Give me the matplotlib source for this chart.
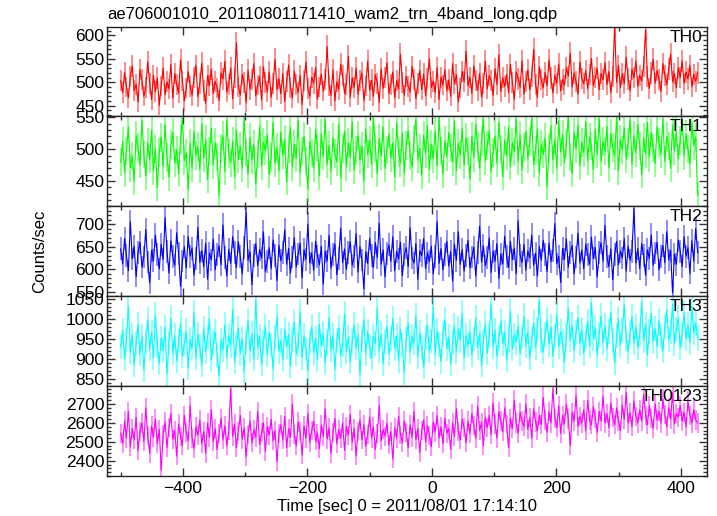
import numpy as np
import matplotlib
matplotlib.use("Agg")
import matplotlib.pyplot as plt
from matplotlib.ticker import MultipleLocator, FuncFormatter

plt.rcParams['font.family'] = ['Liberation Sans', 'DejaVu Sans']

# light curve, one value per time bin (counts/sec)
t_start = -500.0
bin_width = 3.1

th0 = [503, 478, 521, 490, 467, 512, 535, 482, 496, 458, 527, 505, 470, 489, 544, 498, 463, 515, 480, 509,
       451, 492, 530, 474, 501, 486, 538, 466, 519, 495, 477, 548, 504, 460, 488, 523, 491, 472, 510, 536,
       469, 497, 541, 483, 455, 514, 493, 528, 476, 502, 488, 461, 520, 507, 545, 479, 496, 531, 465, 511,
       584, 490, 473, 517, 499, 457, 526, 485, 506, 540, 471, 494, 512, 462, 533, 500, 480, 522, 468, 497,
       549, 484, 508, 475, 519, 459, 502, 537, 489, 466, 524, 495, 478, 515, 452, 503, 543, 487, 470, 511,
       498, 532, 464, 490, 518, 481, 506, 576, 493, 472, 527, 460, 501, 485, 539, 514, 476, 496, 555, 468,
       509, 489, 530, 474, 503, 520, 461, 492, 545, 483, 505, 470, 516, 498, 457, 528, 487, 510, 542, 476,
       495, 522, 467, 504, 486, 560, 500, 473, 513, 491, 479, 534, 506, 465, 497, 525, 484, 518, 471, 508,
       550, 489, 502, 478, 531, 463, 511, 494, 527, 482, 505, 470, 540, 497, 516, 458, 488, 523, 501, 566,
       492, 511, 476, 535, 504, 483, 519, 468, 498, 545, 486, 514, 503, 472, 529, 495, 559, 480, 510, 491,
       517, 478, 538, 500, 463, 522, 507, 489, 546, 475, 501, 526, 484, 512, 570, 496, 468, 533, 505, 488,
       521, 492, 548, 509, 477, 515, 498, 539, 482, 506, 494, 531, 513, 562, 490, 520, 501, 475, 543, 508,
       497, 525, 486, 516, 551, 493, 510, 530, 484, 519, 505, 542, 495, 523, 478, 512, 620, 500, 536, 489,
       518, 497, 553, 507, 482, 528, 510, 545, 491, 515, 503, 534, 612, 512, 487, 520, 549, 498, 525, 506,
       480, 540, 515, 495, 528, 560, 502, 519, 488, 531, 510, 546, 498, 522, 507, 536, 490, 517, 502, 520]

th1 = [480, 512, 463, 497, 535, 471, 489, 450, 522, 503, 476, 545, 492, 458, 510, 484, 530, 466, 501, 440,
       495, 519, 473, 538, 487, 456, 507, 526, 478, 499, 462, 515, 548, 482, 494, 437, 509, 471, 528, 490,
       504, 468, 540, 486, 515, 452, 497, 533, 475, 510, 488, 427, 502, 521, 465, 546, 493, 479, 512, 457,
       530, 484, 505, 470, 549, 496, 461, 518, 483, 507, 445, 492, 536, 474, 511, 498, 523, 460, 487, 542,
       478, 503, 466, 527, 491, 515, 449, 500, 534, 472, 508, 486, 545, 463, 497, 520, 481, 438, 512, 494,
       470, 531, 502, 458, 524, 489, 547, 476, 506, 465, 518, 493, 480, 539, 455, 501, 528, 472, 510, 487,
       543, 467, 498, 521, 483, 505, 450, 532, 492, 514, 476, 549, 503, 462, 517, 489, 535, 470, 499, 524,
       486, 510, 456, 541, 495, 478, 526, 463, 506, 530, 490, 472, 515, 547, 484, 501, 459, 522, 493, 537,
       468, 508, 485, 529, 474, 550, 497, 461, 513, 488, 526, 502, 480, 544, 466, 509, 491, 533, 475, 518,
       497, 453, 520, 487, 539, 504, 470, 512, 548, 482, 506, 529, 465, 495, 521, 478, 542, 500, 457, 514,
       489, 535, 473, 510, 496, 548, 481, 522, 467, 503, 528, 485, 512, 549, 476, 498, 532, 463, 507, 492,
       518, 441, 501, 537, 483, 515, 470, 545, 496, 523, 479, 508, 551, 488, 462, 526, 500, 538, 474, 511,
       495, 543, 482, 519, 505, 468, 531, 492, 548, 480, 512, 497, 536, 471, 524, 503, 489, 550, 466, 515,
       499, 534, 484, 510, 547, 476, 521, 494, 539, 505, 460, 518, 493, 542, 487, 526, 502, 478, 535, 510,
       492, 548, 481, 520, 505, 470, 538, 497, 527, 485, 514, 546, 490, 523, 500, 477, 541, 506, 519, 428]

th2 = [645, 612, 668, 630, 597, 705, 623, 651, 584, 638, 660, 605, 627, 688, 616, 570, 642, 619, 676, 633,
       601, 655, 622, 714, 640, 592, 663, 628, 609, 681, 635, 562, 618, 650, 603, 672, 629, 647, 587, 624,
       693, 615, 641, 606, 658, 578, 636, 621, 667, 599, 632, 652, 610, 698, 626, 585, 644, 613, 672, 637,
       604, 661, 628, 590, 649, 727, 620, 639, 566, 631, 657, 608, 644, 625, 683, 596, 617, 648, 602, 665,
       630, 575, 653, 619, 638, 687, 611, 646, 592, 627, 670, 605, 634, 658, 581, 643, 622, 700, 614, 636,
       598, 662, 629, 610, 651, 567, 640, 618, 675, 603, 633, 656, 588, 624, 691, 615, 645, 600, 637, 661,
       609, 628, 679, 594, 650, 621, 557, 639, 613, 668, 631, 604, 659, 626, 702, 611, 643, 583, 635, 654,
       618, 672, 597, 640, 623, 660, 586, 632, 648, 606, 692, 625, 614, 657, 578, 641, 630, 668, 602, 636,
       617, 651, 590, 628, 705, 613, 646, 599, 633, 662, 607, 639, 574, 656, 620, 683, 611, 644, 596, 631,
       664, 603, 627, 649, 585, 637, 695, 616, 652, 608, 626, 669, 593, 640, 618, 657, 580, 634, 612, 673,
       628, 604, 662, 621, 647, 590, 707, 631, 615, 655, 598, 641, 625, 676, 609, 636, 585, 650, 620, 664,
       633, 595, 658, 617, 642, 701, 612, 629, 571, 646, 622, 667, 605, 638, 653, 590, 627, 680, 614, 643,
       601, 656, 632, 611, 671, 624, 648, 583, 637, 659, 618, 697, 629, 606, 645, 577, 633, 662, 610, 640,
       625, 668, 596, 651, 620, 639, 735, 614, 646, 602, 657, 631, 587, 643, 624, 676, 609, 636, 660, 599,
       628, 653, 615, 683, 621, 642, 548, 634, 611, 665, 640, 606, 672, 629, 648, 591, 663, 618, 690, 637]

th3 = [930, 972, 901, 948, 1032, 917, 960, 885, 939, 985, 912, 956, 873, 943, 998, 925, 966, 902, 1010, 934,
       889, 952, 921, 979, 863, 940, 1003, 915, 958, 896, 945, 990, 908, 936, 970, 878, 949, 926, 1015, 903,
       962, 931, 884, 975, 918, 953, 1000, 897, 941, 968, 911, 857, 947, 923, 986, 905, 959, 934, 1022, 892,
       938, 977, 914, 951, 869, 944, 995, 920, 963, 900, 1048, 929, 957, 887, 942, 981, 910, 967, 935, 876,
       954, 1006, 919, 946, 898, 973, 930, 961, 882, 949, 992, 913, 937, 1018, 904, 958, 925, 871, 944, 980,
       916, 952, 899, 987, 933, 964, 890, 941, 1004, 922, 959, 875, 947, 978, 909, 936, 1012, 918, 955, 893,
       943, 985, 927, 960, 862, 950, 997, 914, 969, 931, 903, 956, 939, 1026, 920, 963, 888, 945, 982, 912,
       951, 1001, 926, 958, 896, 974, 935, 866, 948, 990, 917, 957, 940, 1009, 905, 966, 929, 880, 953, 984,
       921, 945, 1030, 912, 970, 937, 894, 961, 998, 925, 956, 888, 942, 983, 918, 975, 947, 1014, 902, 959,
       934, 968, 910, 950, 1002, 927, 963, 884, 944, 988, 915, 958, 1038, 931, 972, 906, 951, 995, 938, 966,
       898, 947, 1020, 925, 960, 942, 981, 913, 955, 1007, 933, 968, 902, 949, 990, 928, 974, 1045, 946, 918,
       962, 997, 937, 980, 908, 956, 1012, 930, 969, 943, 892, 960, 1025, 948, 985, 921, 966, 1003, 939, 973,
       914, 955, 994, 932, 1040, 951, 978, 909, 962, 1008, 941, 983, 925, 969, 1016, 947, 890, 958, 999, 935,
       972, 1034, 952, 917, 965, 1005, 940, 981, 928, 960, 1042, 946, 987, 911, 969, 1013, 944, 976, 931, 995,
       957, 920, 982, 1022, 948, 968, 1036, 938, 974, 1002, 929, 961, 1015, 950, 985, 942, 1030, 966, 990, 952]

th0123 = [2545, 2490, 2610, 2520, 2660, 2475, 2570, 2510, 2630, 2455, 2555, 2600, 2500, 2680, 2535, 2440, 2585, 2525, 2620, 2490,
          2565, 2350, 2540, 2605, 2470, 2575, 2650, 2515, 2560, 2425, 2595, 2530, 2480, 2640, 2550, 2505, 2690, 2520, 2465, 2580,
          2535, 2615, 2490, 2555, 2440, 2600, 2525, 2670, 2500, 2570, 2460, 2545, 2625, 2510, 2585, 2480, 2560, 2780, 2530, 2595,
          2470, 2555, 2640, 2515, 2575, 2420, 2540, 2610, 2495, 2565, 2525, 2660, 2485, 2550, 2600, 2450, 2580, 2535, 2620, 2505,
          2560, 2395, 2545, 2590, 2510, 2635, 2470, 2570, 2525, 2700, 2540, 2480, 2605, 2555, 2430, 2585, 2520, 2650, 2495, 2560,
          2610, 2505, 2545, 2465, 2590, 2530, 2675, 2515, 2575, 2440, 2550, 2625, 2490, 2565, 2520, 2600, 2455, 2580, 2535, 2645,
          2500, 2570, 2425, 2555, 2615, 2510, 2590, 2475, 2540, 2630, 2520, 2580, 2460, 2545, 2690, 2505, 2565, 2530, 2600, 2485,
          2555, 2410, 2575, 2520, 2635, 2540, 2495, 2610, 2550, 2470, 2590, 2525, 2660, 2510, 2570, 2445, 2560, 2615, 2500, 2585,
          2535, 2475, 2605, 2550, 2640, 2520, 2580, 2490, 2625, 2545, 2570, 2460, 2600, 2530, 2675, 2555, 2510, 2620, 2575, 2495,
          2610, 2545, 2650, 2585, 2520, 2690, 2560, 2600, 2480, 2630, 2575, 2640, 2540, 2705, 2595, 2520, 2660, 2610, 2555, 2680,
          2590, 2470, 2625, 2570, 2720, 2600, 2545, 2655, 2610, 2580, 2700, 2565, 2630, 2520, 2675, 2605, 2560, 2640, 2590, 2735,
          2615, 2550, 2660, 2600, 2780, 2625, 2575, 2690, 2545, 2640, 2595, 2700, 2620, 2480, 2655, 2610, 2745, 2580, 2635, 2600,
          2670, 2560, 2720, 2615, 2590, 2685, 2625, 2550, 2660, 2610, 2740, 2600, 2650, 2575, 2705, 2630, 2590, 2680, 2610, 2560,
          2695, 2620, 2760, 2600, 2655, 2580, 2715, 2635, 2600, 2670, 2610, 2750, 2640, 2590, 2690, 2625, 2570, 2700, 2615, 2660,
          2600, 2725, 2645, 2580, 2680, 2620, 2760, 2595, 2650, 2630, 2690, 2610, 2655, 2580, 2715, 2640, 2600, 2670, 2615, 2600]

series = [th0, th1, th2, th3, th0123]
names = ['TH0', 'TH1', 'TH2', 'TH3', 'TH0123']
colors = ['#ff0000', '#00ff00', '#0000ff', '#00ffff', '#ff00ff']
ylims = [(428, 618), (411, 552), (541, 740), (833, 1057), (2320, 2795)]
majors = [50, 50, 50, 50, 100]
minors = [10, 10, 10, 10, 20]

W, H = 717, 516
fig = plt.figure(figsize=(W / 100, H / 100), dpi=100)

edges = [27, 116, 206, 296, 386, 476]
left, right = 107, 707

axes = []
for i, vals in enumerate(series):
    top, bot = edges[i], edges[i + 1]
    ax = fig.add_axes([left / W, 1 - bot / H, (right - left) / W, (bot - top) / H])
    v = np.array(vals, dtype=float)
    t = t_start + bin_width * np.arange(len(v))
    err = np.sqrt(v)
    ax.vlines(t, v - err, v + err, color=colors[i], alpha=0.45, lw=1.4)
    ax.plot(t, v, color=colors[i], lw=0.8)
    ax.set_xlim(-522, 442)
    ax.set_ylim(*ylims[i])
    ax.xaxis.set_major_locator(MultipleLocator(200))
    ax.xaxis.set_minor_locator(MultipleLocator(100))
    ax.yaxis.set_major_locator(MultipleLocator(majors[i]))
    ax.yaxis.set_minor_locator(MultipleLocator(minors[i]))
    ax.tick_params(which='both', direction='in', top=True, right=True,
                   labelsize=12.5, width=1, color='#333333')
    ax.tick_params(which='major', length=6)
    ax.tick_params(which='minor', length=3)
    ax.yaxis.set_tick_params(pad=2)
    for s in ax.spines.values():
        s.set_linewidth(1)
        s.set_color('#222222')
    ax.text(0.993, 0.97, names[i], transform=ax.transAxes, ha='right', va='top',
            fontsize=12.5)
    if i < len(series) - 1:
        ax.set_xticklabels([])
    else:
        ax.xaxis.set_major_formatter(FuncFormatter(
            lambda x, p: '\u2212%d' % -x if x < 0 else '%d' % x))
    axes.append(ax)

axes[-1].set_xlabel('Time [sec] 0 = 2011/08/01 17:14:10', fontsize=12, labelpad=2)
fig.text(40 / W, 1 - 251 / H, 'Counts/sec', rotation=90, ha='center', va='center', fontsize=12)
fig.text(left / W, 1 - 14 / H, 'ae706001010_20110801171410_wam2_trn_4band_long.qdp',
         ha='left', va='center', fontsize=12)

fig.savefig('out.png', dpi=100)
